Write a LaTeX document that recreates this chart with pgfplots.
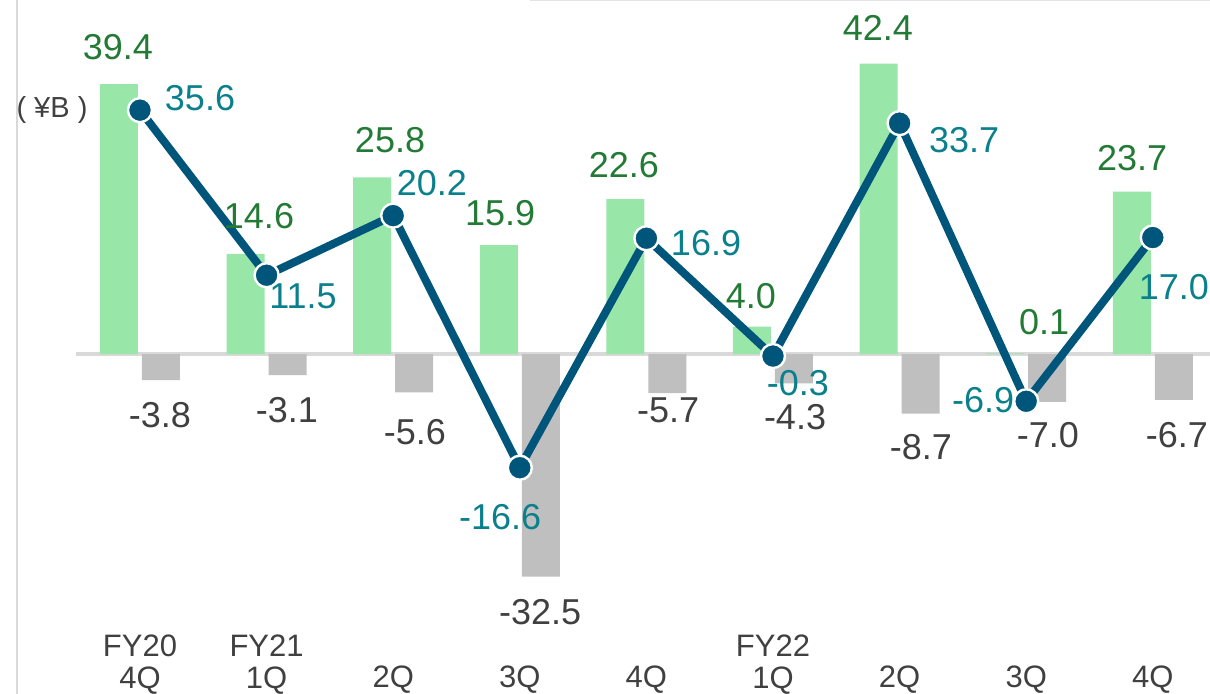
\documentclass[border=0pt]{standalone}
\usepackage{pgfplots}
\pgfplotsset{compat=1.18}
\usepackage{fontspec}
\setmainfont{Liberation Sans}
\definecolor{barGreen}{HTML}{99E6A9}
\definecolor{barGray}{HTML}{BFBFBF}
\definecolor{lineBlue}{HTML}{00567A}
\definecolor{labGreen}{HTML}{237A35}
\definecolor{labTeal}{HTML}{0A808C}
\definecolor{labGray}{HTML}{404040}
\definecolor{zeroLine}{HTML}{D9D9D9}
\begin{document}
\begin{tikzpicture}[
  gl/.style={text=labGreen, font=\fontsize{18}{20}\selectfont, inner sep=0pt, anchor=center},
  tl/.style={text=labTeal, font=\fontsize{18}{20}\selectfont, inner sep=0pt, anchor=center},
  dl/.style={text=labGray, font=\fontsize{18}{20}\selectfont, inner sep=0pt, anchor=center},
]
\begin{axis}[
  at={(0,0)}, anchor=south west,
  scale only axis, width=605pt, height=316pt,
  xmin=-1.1058, xmax=8.4518, ymin=-40.58, ymax=51.68,
  axis line style={draw=none}, ytick=\empty,
  xtick={0,1,2,3,4,5,6,7,8}, major tick length=0pt,
  xticklabels={{\strut FY20\\4Q},{\strut FY21\\1Q},{\strut\\2Q},{\strut\\3Q},{\strut\\4Q},{\strut FY22\\1Q},{\strut\\2Q},{\strut\\3Q},{\strut\\4Q}},
  xticklabel style={align=center, font=\fontsize{15.5}{14.6}\selectfont, text=labGray, anchor=north, inner sep=0pt, yshift=-1pt},
  clip=false,
]
\draw[zeroLine, line width=2pt] (axis cs:-0.506,0) -- (axis cs:8.4518,0);
\addplot[ybar, bar width=19pt, bar shift=-10.5pt, fill=barGreen, draw=none]
  coordinates {(0,39.4) (1,14.6) (2,25.8) (3,15.9) (4,22.6) (5,4.0) (6,42.4) (7,0.1) (8,23.7)};
\addplot[ybar, bar width=19pt, bar shift=10.5pt, fill=barGray, draw=none]
  coordinates {(0,-3.8) (1,-3.1) (2,-5.6) (3,-32.5) (4,-5.7) (5,-4.3) (6,-8.7) (7,-7.0) (8,-6.7)};
\addplot[color=lineBlue, line width=4pt, mark=*, mark size=6pt,
  mark options={fill=lineBlue, draw=white, line width=1.2pt}]
  coordinates {(0,35.6) (1,11.5) (2,20.2) (3,-16.6) (4,16.9) (5,-0.3) (6,33.7) (7,-6.9) (8,17.0)};
% green labels
\node[gl] at (axis cs:-0.174,44.82) {39.4};
\node[gl] at (axis cs:0.940,20.15) {14.6};
\node[gl] at (axis cs:1.975,31.24) {25.8};
\node[gl] at (axis cs:2.844,20.58) {15.9};
\node[gl] at (axis cs:3.823,27.59) {22.6};
\node[gl] at (axis cs:4.826,8.47) {4.0};
\node[gl] at (axis cs:5.829,47.59) {42.4};
\node[gl] at (axis cs:7.141,4.67) {0.1};
\node[gl] at (axis cs:7.836,28.61) {23.7};
% teal labels
\node[tl] at (axis cs:0.474,37.37) {35.6};
\node[tl] at (axis cs:1.288,8.47) {11.5};
\node[tl] at (axis cs:2.306,24.96) {20.2};
\node[tl] at (axis cs:2.844,-23.80) {-16.6};
\node[tl] at (axis cs:4.471,16.20) {16.9};
\node[tl] at (axis cs:5.197,-4.23) {-0.3};
\node[tl] at (axis cs:6.509,31.24) {33.7};
\node[tl] at (axis cs:6.659,-6.72) {-6.9};
\node[tl] at (axis cs:8.167,9.78) {17.0};
% gray labels
\node[dl] at (axis cs:0.158,-8.91) {-3.8};
\node[dl] at (axis cs:1.161,-8.18) {-3.1};
\node[dl] at (axis cs:2.172,-11.39) {-5.6};
\node[dl] at (axis cs:3.160,-37.66) {-32.5};
\node[dl] at (axis cs:4.171,-8.18) {-5.7};
\node[dl] at (axis cs:5.174,-9.20) {-4.3};
\node[dl] at (axis cs:6.169,-13.58) {-8.7};
\node[dl] at (axis cs:7.172,-11.82) {-7.0};
\node[dl] at (axis cs:8.191,-11.82) {-6.7};
% unit
\node[text=labGray, font=\fontsize{14.5}{16}\selectfont, inner sep=0pt, anchor=center] at (axis cs:-0.695,35.62) {( ¥B )};
\end{axis}
\draw[zeroLine, line width=0.8pt] (8.5pt,-31pt) -- (8.5pt,316pt);
\draw[zeroLine!70, line width=0.6pt] (265pt,315.7pt) -- (605pt,315.7pt);
\pgfresetboundingbox
\path (0,-31pt) rectangle (605pt,316pt);
\end{tikzpicture}
\end{document}
